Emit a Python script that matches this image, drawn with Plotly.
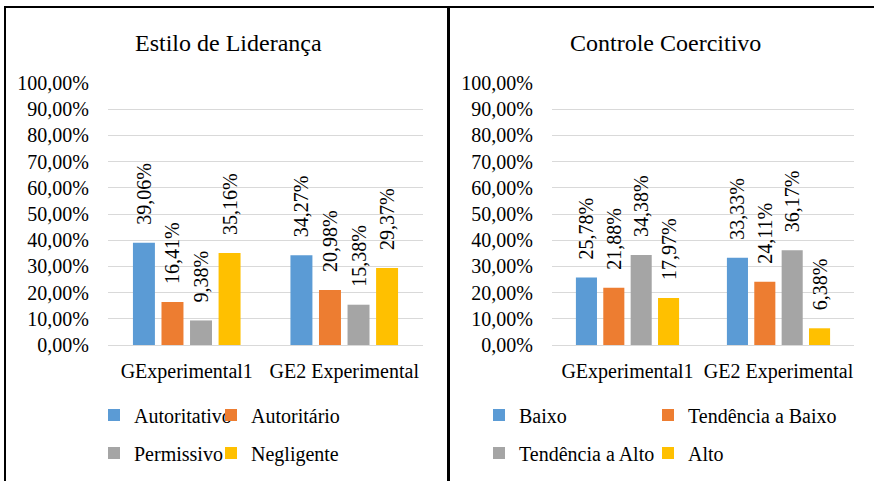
import plotly.graph_objects as go

W, H = 874, 481

categories = ["GExperimental1", "GE2 Experimental"]

# Estilo de Liderança
lid_series = ["Autoritativo", "Autoritário", "Permissivo", "Negligente"]
lid_values = [
    [0.3906, 0.3427],
    [0.1641, 0.2098],
    [0.0938, 0.1538],
    [0.3516, 0.2937],
]

# Controle Coercitivo
coe_series = ["Baixo", "Tendência a Baixo", "Tendência a Alto", "Alto"]
coe_values = [
    [0.2578, 0.3333],
    [0.2188, 0.2411],
    [0.3438, 0.3617],
    [0.1797, 0.0638],
]

colors = ["#5B9BD5", "#ED7D31", "#A5A5A5", "#FFC000"]
FONT = "Liberation Serif"
PAD = "\u200b\u00a0\u00a0\u00a0"


def px(x):
    return x / W


def py(y):
    return 1 - y / H


fig = go.Figure()

# legend placement (text start x, text center y) in pixels, one legend per entry
lid_leg_pos = [(132, 415), (249, 415), (132, 453), (249, 453)]
coe_leg_pos = [(517, 415), (686, 415), (517, 453), (686, 453)]

legends = {}
k = 1
for series, values, pos, xa, ya in [
    (lid_series, lid_values, lid_leg_pos, "x", "y"),
    (coe_series, coe_values, coe_leg_pos, "x2", "y2"),
]:
    for i, name in enumerate(series):
        lname = "legend" if k == 1 else f"legend{k}"
        fig.add_trace(go.Bar(
            x=categories, y=values[i], name=name,
            marker=dict(color=colors[i], line=dict(width=0)),
            texttemplate=PAD + "%{y:.2%}", textposition="outside", textangle=-90,
            textfont=dict(family=FONT, size=20, color="black"),
            constraintext="none", cliponaxis=False,
            xaxis=xa, yaxis=ya, legend=lname, hoverinfo="skip",
        ))
        tx, ty = pos[i]
        legends[lname] = dict(
            x=px(tx - 38), y=py(ty), xanchor="left", yanchor="middle",
            orientation="h", bgcolor="rgba(0,0,0,0)", borderwidth=0,
            font=dict(family=FONT, size=20, color="black"),
        )
        k += 1

ydom = [py(345), py(83)]
yax = dict(range=[0, 1.0001], dtick=0.1, tickformat=".2%", showgrid=True,
           gridcolor="#D9D9D9", gridwidth=1, zeroline=True, zerolinecolor="#D9D9D9",
           zerolinewidth=1, showline=False, ticks="outside", ticklen=14,
           tickcolor="rgba(0,0,0,0)", automargin=False,
           tickfont=dict(family=FONT, size=20, color="black"), fixedrange=True)
xax = dict(showline=False, ticks="outside", ticklen=8, tickcolor="rgba(0,0,0,0)",
           showgrid=False, automargin=False,
           tickfont=dict(family=FONT, size=20, color="black"), fixedrange=True)

fig.update_layout(
    width=W, height=H, autosize=False,
    margin=dict(l=0, r=0, t=0, b=0, pad=0),
    paper_bgcolor="white", plot_bgcolor="white",
    barmode="group", bargap=0.275, bargroupgap=0.23,
    separators=",.",
    font=dict(family=FONT, size=20, color="black"),
    xaxis=dict(domain=[px(108), px(423)], anchor="y", **xax),
    yaxis=dict(domain=ydom, anchor="x", **yax),
    xaxis2=dict(domain=[px(552), px(854)], anchor="y2", **xax),
    yaxis2=dict(domain=ydom, anchor="x2", **yax),
    annotations=[
        dict(text="Estilo de Liderança", x=px(228), y=py(43), xref="paper", yref="paper",
             xanchor="center", yanchor="middle", showarrow=False,
             font=dict(family=FONT, size=24, color="black")),
        dict(text="Controle Coercitivo", x=px(665), y=py(43), xref="paper", yref="paper",
             xanchor="center", yanchor="middle", showarrow=False,
             font=dict(family=FONT, size=24, color="black")),
    ],
    shapes=[
        dict(type="rect", xref="paper", yref="paper", x0=px(5), x1=px(448),
             y0=-0.2, y1=py(7), line=dict(color="black", width=2)),
        dict(type="rect", xref="paper", yref="paper", x0=px(449), x1=px(884),
             y0=-0.2, y1=py(7), line=dict(color="black", width=2)),
    ],
    showlegend=True,
    **legends,
)

fig.write_html(
    "out.html",
    config={"displayModeBar": False, "staticPlot": True, "responsive": False},
    post_script="document.body.style.margin='0';document.body.style.padding='0';"
                "document.body.style.overflow='hidden';",
)
